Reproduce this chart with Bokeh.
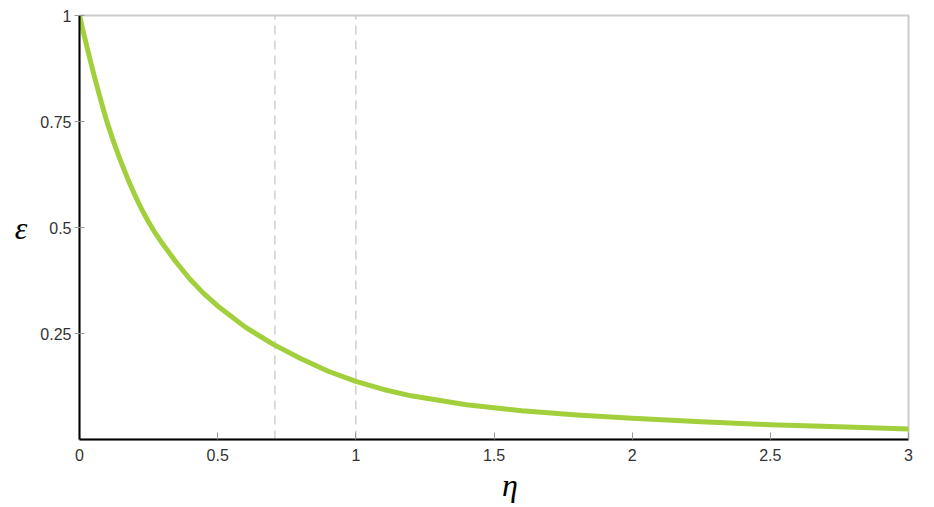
from bokeh.plotting import figure
from bokeh.models import Range1d, FixedTicker, ColumnDataSource
from bokeh.embed import file_html
from bokeh.resources import INLINE

# curve values
eta = [0.0, 0.0125, 0.025, 0.0375, 0.05, 0.0625, 0.075, 0.0875, 0.1,
       0.125, 0.15, 0.175, 0.2, 0.225, 0.25, 0.275, 0.3, 0.35, 0.4, 0.45, 0.5,
       0.6, 0.7, 0.8, 0.9, 1.0, 1.1, 1.2, 1.4, 1.6, 1.8, 2.0, 2.25, 2.5, 2.75, 3.0]
eps = [1.0, 0.965, 0.931, 0.898, 0.866, 0.835, 0.805, 0.776, 0.748,
       0.699, 0.655, 0.614, 0.577, 0.543, 0.513, 0.486, 0.462, 0.418, 0.378, 0.344, 0.315,
       0.265, 0.225, 0.191, 0.161, 0.137, 0.118, 0.103, 0.082, 0.068, 0.058, 0.050, 0.042, 0.035, 0.030, 0.025]

# dashed reference lines
ref_eta = [0.7071, 1.0]
ref_y0 = [0.0, 0.0]
ref_y1 = [1.0, 1.0]

x_ticks = [0, 0.5, 1, 1.5, 2, 2.5, 3]
x_tick_labels = ["0", "0.5", "1", "1.5", "2", "2.5", "3"]
y_ticks = [0.25, 0.5, 0.75, 1]
y_tick_labels = ["0.25", "0.5", "0.75", "1"]

p = figure(frame_width=829, frame_height=424, output_backend="svg", toolbar_location=None,
           x_range=Range1d(0, 3), y_range=Range1d(0, 1),
           min_border_left=79, min_border_top=15, min_border_right=20, min_border_bottom=60)
p.background_fill_color = "white"
p.border_fill_color = "white"
p.grid.visible = False
p.outline_line_color = "#cccccc"
p.outline_line_width = 2

p.segment(x0="x", y0="y0", x1="x", y1="y1",
          source=ColumnDataSource(dict(x=ref_eta, y0=ref_y0, y1=ref_y1)),
          line_color="#d0d0d0", line_width=1.5, line_dash="9 6")

p.line(eta, eps, line_color="#a2cf3c", line_width=5, line_cap="round", line_join="round")

for ax in (p.xaxis[0], p.yaxis[0]):
    ax.axis_line_color = "black"
    ax.axis_line_width = 2
    ax.major_tick_line_color = "#999999"
    ax.minor_tick_line_color = None
    ax.major_label_text_font = "Liberation Sans"
    ax.major_label_text_font_size = "16px"
    ax.major_label_text_color = "#333333"
    ax.axis_label_text_font = "Liberation Serif"
    ax.axis_label_text_font_style = "italic"
    ax.axis_label_text_font_size = "32px"
    ax.axis_label_text_color = "black"

p.xaxis.ticker = FixedTicker(ticks=x_ticks)
p.xaxis.major_label_overrides = {t: l for t, l in zip(x_ticks, x_tick_labels)}
p.xaxis.major_tick_in = 7
p.xaxis.major_tick_out = 0
p.xaxis.major_label_standoff = 9
p.xaxis.axis_label = "\u2003η"
p.xaxis.axis_label_standoff = 3

p.yaxis.ticker = FixedTicker(ticks=y_ticks)
p.yaxis.major_label_overrides = {t: l for t, l in zip(y_ticks, y_tick_labels)}
p.yaxis.major_tick_in = 5
p.yaxis.major_tick_out = 5
p.yaxis.major_label_standoff = 3
p.yaxis.axis_label = "ε"
p.yaxis.axis_label_orientation = "horizontal"
p.yaxis.axis_label_standoff = 10

open("out.html", "w").write(file_html(p, INLINE))
